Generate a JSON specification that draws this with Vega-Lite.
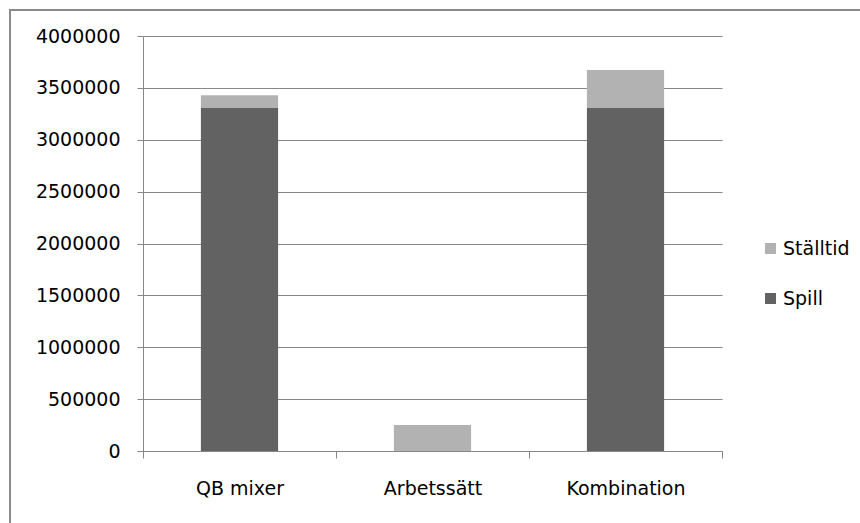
{
  "$schema": "https://vega.github.io/schema/vega-lite/v6.json",
  "width": 852,
  "height": 515,
  "autosize": {"type": "none"},
  "padding": {"left": 10, "top": 10, "right": -2, "bottom": -2},
  "background": "white",
  "config": {
    "view": {"stroke": "#8a8a8a", "strokeWidth": 2},
    "font": "DejaVu Sans"
  },
  "data": {
    "values": [
      {"category": "QB mixer", "series": "Spill", "value": 3306000},
      {"category": "QB mixer", "series": "Ställtid", "value": 122000},
      {"category": "Arbetssätt", "series": "Spill", "value": 0},
      {"category": "Arbetssätt", "series": "Ställtid", "value": 250000},
      {"category": "Kombination", "series": "Spill", "value": 3306000},
      {"category": "Kombination", "series": "Ställtid", "value": 366000}
    ]
  },
  "mark": {"type": "bar", "width": {"band": 0.4}},
  "encoding": {
    "x": {
      "field": "category",
      "type": "nominal",
      "sort": ["QB mixer", "Arbetssätt", "Kombination"],
      "scale": {"range": [133, 712], "paddingInner": 0, "paddingOuter": 0},
      "axis": {
        "title": null,
        "labelAngle": 0,
        "tickBand": "extent",
        "tickSize": 7,
        "tickColor": "#878787",
        "domainColor": "#878787",
        "grid": false,
        "labelFont": "DejaVu Sans",
        "labelFontSize": 19,
        "labelColor": "#000000",
        "labelPadding": 21,
        "offset": -74
      }
    },
    "y": {
      "field": "value",
      "type": "quantitative",
      "stack": "zero",
      "scale": {"domain": [0, 4000000], "range": [441, 26], "nice": false},
      "axis": {
        "title": null,
        "values": [0, 500000, 1000000, 1500000, 2000000, 2500000, 3000000, 3500000, 4000000],
        "format": "d",
        "tickSize": 6,
        "tickColor": "#878787",
        "domainColor": "#878787",
        "gridColor": "#878787",
        "labelFont": "DejaVu Sans",
        "labelFontSize": 19,
        "labelColor": "#000000",
        "labelPadding": 17,
        "offset": -133
      }
    },
    "order": {"field": "series", "sort": "ascending"},
    "color": {
      "field": "series",
      "type": "nominal",
      "scale": {"domain": ["Ställtid", "Spill"], "range": ["#b2b2b2", "#626262"]},
      "legend": {
        "title": null,
        "orient": "none",
        "legendX": 751,
        "legendY": 229,
        "padding": 0,
        "symbolType": "square",
        "symbolSize": 121,
        "symbolStrokeWidth": 0,
        "labelFont": "DejaVu Sans",
        "labelFontSize": 19,
        "labelColor": "#000000",
        "labelOffset": 3,
        "rowPadding": 30
      }
    }
  }
}
